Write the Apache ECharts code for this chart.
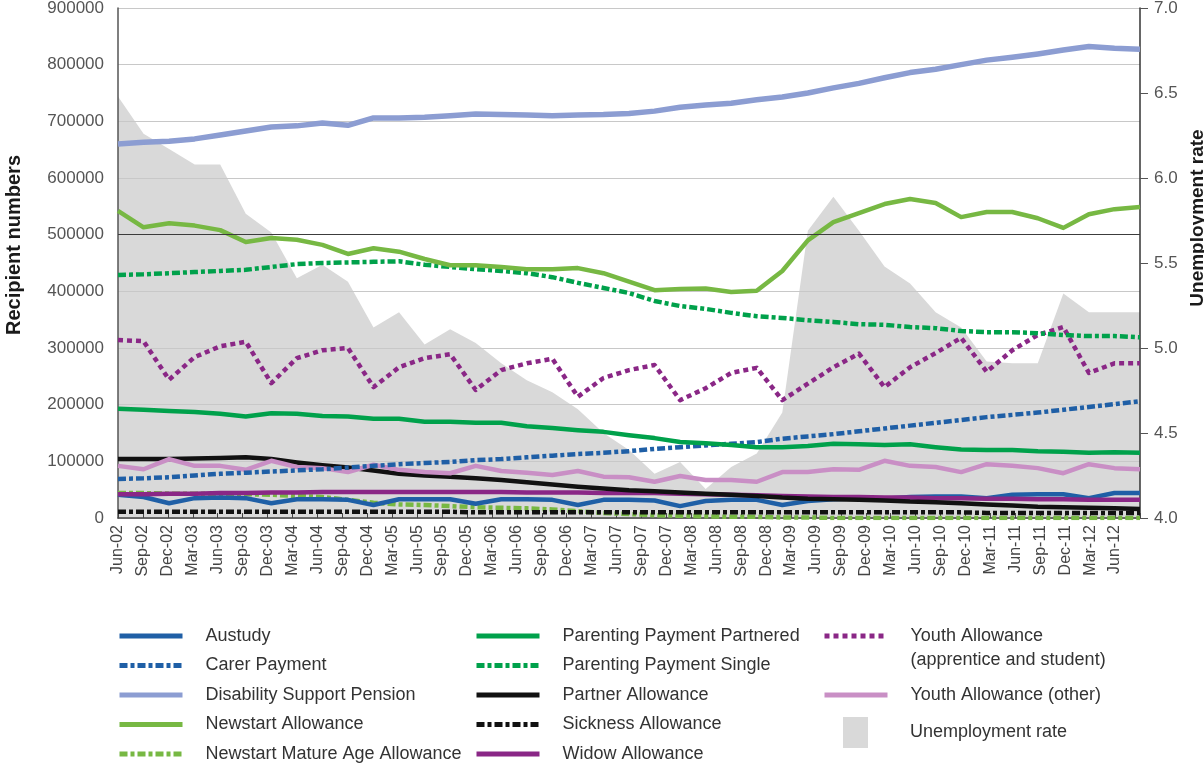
<!DOCTYPE html>
<html>
<head>
<meta charset="utf-8">
<script src="https://cdn.jsdelivr.net/npm/echarts@6/dist/echarts.min.js"></script>
<style>
  html, body { margin: 0; padding: 0; background: #ffffff; }
  #chart { width: 1204px; height: 764px; }
</style>
</head>
<body>
<div id="chart"></div>
<script>
// Quarters for which figures are plotted
const quarters = ['Jun-02','Sep-02','Dec-02','Mar-03','Jun-03','Sep-03','Dec-03','Mar-04','Jun-04','Sep-04',
  'Dec-04','Mar-05','Jun-05','Sep-05','Dec-05','Mar-06','Jun-06','Sep-06','Dec-06','Mar-07',
  'Jun-07','Sep-07','Dec-07','Mar-08','Jun-08','Sep-08','Dec-08','Mar-09','Jun-09','Sep-09',
  'Dec-09','Mar-10','Jun-10','Sep-10','Dec-10','Mar-11','Jun-11','Sep-11','Dec-11','Mar-12','Jun-12'];
// Tick labels on the category axis (one extra, unlabelled tick closes the axis)
const tickLabels = quarters.concat(['']);

// Recipient numbers by payment type
const austudy = [41000,37000,26000,35000,36000,35000,26000,33000,33000,32000,
  23000,33000,33000,33000,25000,33000,33000,32000,23000,32000,
  32000,31000,21000,30000,32000,32000,23000,30000,33000,35000,
  34000,37000,38000,38000,35000,41000,42000,42000,35000,44000,44000];
const carerPayment = [69000,70000,72000,75000,78000,80000,82000,84000,86000,89000,
  92000,95000,97000,99000,102000,104000,107000,110000,113000,115000,
  118000,122000,125000,128000,131000,134000,140000,144000,148000,153000,
  158000,163000,168000,173000,178000,182000,186000,191000,196000,201000,206000];
const disabilitySupport = [660000,663000,665000,669000,676000,683000,690000,692000,697000,693000,
  706000,706000,707000,710000,713000,712000,711000,710000,711000,712000,
  714000,718000,725000,729000,732000,738000,743000,750000,759000,767000,
  777000,786000,792000,800000,808000,813000,819000,826000,832000,829000,827000];
const newstart = [542000,513000,520000,516000,508000,487000,494000,491000,482000,466000,
  476000,470000,457000,446000,446000,443000,439000,439000,441000,432000,
  417000,402000,404000,405000,399000,401000,436000,490000,522000,538000,
  554000,563000,556000,531000,540000,540000,529000,512000,536000,545000,549000];
const newstartMatureAge = [44000,44000,43000,43000,42000,42000,41000,39000,37000,32000,
  27000,24000,23000,21000,19000,18000,17000,15000,12000,9000,
  7000,5000,4000,3000,2000,2000,1000,1000,0,0,
  0,0,0,0,0,0,0,0,0,0,0];
const parentingPartnered = [193000,191000,189000,187000,184000,179000,185000,184000,180000,179000,
  175000,175000,170000,170000,168000,168000,162000,159000,155000,152000,
  146000,141000,134000,132000,129000,125000,125000,127000,131000,130000,
  129000,130000,125000,121000,120000,120000,118000,117000,115000,116000,115000];
const parentingSingle = [429000,430000,432000,434000,436000,438000,443000,448000,450000,451000,
  452000,453000,447000,443000,439000,436000,432000,425000,415000,406000,
  397000,383000,374000,369000,362000,356000,353000,349000,346000,342000,
  341000,337000,335000,330000,328000,328000,326000,323000,321000,321000,319000];
const partnerAllowance = [104000,104000,104000,105000,106000,107000,104000,98000,93000,89000,
  84000,78000,75000,73000,70000,67000,63000,59000,55000,52000,
  49000,47000,45000,43000,41000,39000,36000,34000,33000,32000,
  31000,29000,28000,26000,24000,22000,20000,19000,18000,17000,16000];
const sicknessAllowance = [11000,11000,11000,11000,11000,11000,11000,11000,11000,11000,
  11000,11000,11000,11000,10000,10000,10000,10000,10000,10000,
  10000,10000,10000,10000,10000,10000,10000,10000,10000,10000,
  10000,10000,10000,10000,9000,9000,9000,9000,9000,9000,9000];
const widowAllowance = [42000,42000,43000,43000,44000,44000,45000,45000,46000,46000,
  46000,46000,46000,46000,46000,46000,45000,45000,45000,44000,
  44000,44000,43000,42000,41000,40000,39000,38000,37000,37000,
  36000,36000,35000,35000,34000,34000,33000,33000,32000,32000,32000];
const youthStudent = [314000,312000,244000,284000,303000,311000,238000,282000,296000,300000,
  231000,266000,282000,289000,226000,261000,273000,281000,214000,247000,
  261000,270000,208000,229000,256000,265000,208000,237000,266000,290000,
  231000,266000,291000,318000,258000,296000,323000,337000,256000,273000,273000];
const youthOther = [92000,86000,104000,92000,92000,85000,101000,90000,88000,81000,
  94000,85000,81000,79000,92000,83000,80000,76000,83000,73000,
  72000,64000,74000,67000,67000,64000,81000,81000,86000,85000,
  101000,92000,90000,81000,95000,92000,88000,79000,95000,88000,86000];

// Unemployment rate (%), right-hand axis
const unemploymentRate = [6.48,6.26,6.17,6.08,6.08,5.79,5.68,5.41,5.49,5.39,
  5.12,5.21,5.02,5.11,5.03,4.91,4.81,4.74,4.64,4.50,
  4.40,4.26,4.33,4.17,4.30,4.38,4.62,5.69,5.89,5.69,
  5.48,5.38,5.21,5.12,4.92,4.91,4.91,5.32,5.21,5.21,5.21];

const FONT = "'Liberation Sans', Arial, sans-serif";
const BLUE = '#1f5fa6', LAVENDER = '#8c9dd2', LIGHTGREEN = '#77b843',
      GREEN = '#00a14b', BLACK = '#111111', PURPLE = '#8a2786', PINK = '#c98fc5';
const DASH_DOT = [8, 3, 4, 3];
const DOTS = [5, 4];

function lineSeries(name, data, color, dash, width) {
  return {
    name: name,
    type: 'line',
    data: data,
    symbol: 'none',
    smooth: false,
    z: 3,
    lineStyle: {
      color: color,
      width: width || 4.5,
      type: dash || 'solid',
      cap: 'butt',
      join: 'round'
    },
    itemStyle: { color: color },
    emphasis: { disabled: true }
  };
}

const YOUTH_STUDENT = 'Youth Allowance\n(apprentice and student)';

const series = [
  {
    name: 'Unemployment rate',
    type: 'line',
    yAxisIndex: 1,
    data: unemploymentRate,
    symbol: 'none',
    z: -1,
    lineStyle: { width: 0, color: '#d9d9d9' },
    itemStyle: { color: '#d9d9d9' },
    areaStyle: { color: '#d9d9d9', opacity: 1, origin: 'start' },
    emphasis: { disabled: true }
  },
  lineSeries('Newstart Mature Age Allowance', newstartMatureAge, LIGHTGREEN, DASH_DOT),
  lineSeries('Sickness Allowance', sicknessAllowance, BLACK, DASH_DOT),
  lineSeries('Austudy', austudy, BLUE),
  lineSeries('Widow Allowance', widowAllowance, PURPLE),
  lineSeries('Partner Allowance', partnerAllowance, BLACK),
  lineSeries('Youth Allowance (other)', youthOther, PINK),
  lineSeries('Carer Payment', carerPayment, BLUE, DASH_DOT),
  lineSeries('Parenting Payment Partnered', parentingPartnered, GREEN),
  lineSeries(YOUTH_STUDENT, youthStudent, PURPLE, DOTS),
  lineSeries('Parenting Payment Single', parentingSingle, GREEN, DASH_DOT),
  lineSeries('Newstart Allowance', newstart, LIGHTGREEN),
  Object.assign(lineSeries('Disability Support Pension', disabilitySupport, LAVENDER, null, 5.5), {
    markLine: {
      silent: true,
      symbol: 'none',
      label: { show: false },
      lineStyle: { color: '#3c3c3c', width: 1, type: 'solid' },
      data: [{ yAxis: 500000 }]
    }
  })
];

const legendText = { fontFamily: FONT, fontSize: 18, color: '#333', lineHeight: 20, padding: [0, 0, 0, 18] };
const legendBase = {
  orient: 'vertical',
  padding: 0,
  itemWidth: 63,
  itemHeight: 14,
  itemGap: 9.5,
  selectedMode: false,
  // line samples only, no marker on them
  itemStyle: { opacity: 0, borderWidth: 0 },
  lineStyle: { width: 5 },
  textStyle: legendText
};

const option = {
  backgroundColor: '#ffffff',
  animation: false,
  grid: { left: 118, right: 64, top: 8, bottom: 246, containLabel: false, outerBoundsMode: 'none' },
  legend: [
    Object.assign({}, legendBase, { left: 117, top: 626,
      data: ['Austudy', 'Carer Payment', 'Disability Support Pension', 'Newstart Allowance', 'Newstart Mature Age Allowance'] }),
    Object.assign({}, legendBase, { left: 474, top: 626,
      data: ['Parenting Payment Partnered', 'Parenting Payment Single', 'Partner Allowance', 'Sickness Allowance', 'Widow Allowance'] }),
    Object.assign({}, legendBase, { left: 822, top: 600,
      textStyle: Object.assign({}, legendText, { lineHeight: 24 }),
      formatter: function (name) { return ' \n' + name; },
      data: [YOUTH_STUDENT] }),
    Object.assign({}, legendBase, { left: 822, top: 685, data: ['Youth Allowance (other)'] }),
    Object.assign({}, legendBase, { left: 843, top: 717, itemWidth: 25, itemHeight: 31,
      itemStyle: { color: '#d9d9d9' },
      textStyle: Object.assign({}, legendText, { padding: [0, 0, 0, 37] }),
      data: [{ name: 'Unemployment rate', icon: 'rect' }] })
  ],
  xAxis: [
    {
      // positions of the plotted quarters
      type: 'category',
      data: quarters,
      boundaryGap: false,
      position: 'top',
      show: false
    },
    {
      // visible quarter axis with its tick marks
      type: 'category',
      data: tickLabels,
      boundaryGap: false,
      position: 'bottom',
      axisLine: { show: true, lineStyle: { color: '#444', width: 1.5 } },
      axisTick: { show: true, inside: true, length: 5, interval: 0, lineStyle: { color: '#444' } },
      axisLabel: { interval: 0, rotate: 90, margin: 7, fontFamily: FONT, fontSize: 16, color: '#444' },
      splitLine: { show: false }
    }
  ],
  yAxis: [
    {
      type: 'value',
      min: 0, max: 900000, interval: 100000,
      name: 'Recipient numbers',
      nameLocation: 'middle',
      nameRotate: 90,
      nameGap: 94,
      nameTextStyle: { fontFamily: FONT, fontSize: 20, fontWeight: 'bold', color: '#1a1a1a', padding: [0, 0, 0, 36] },
      axisLine: { show: true, lineStyle: { color: '#555', width: 1.5 } },
      axisTick: { show: false },
      axisLabel: { margin: 14, fontFamily: FONT, fontSize: 17, color: '#555',
        formatter: function (v) { return String(v); } },
      splitLine: { show: true, lineStyle: { color: '#c8c8c8', width: 1 } }
    },
    {
      type: 'value',
      position: 'right',
      min: 4, max: 7, interval: 0.5,
      name: 'Unemployment rate',
      nameLocation: 'middle',
      nameRotate: 90,
      nameGap: 45,
      nameTextStyle: { fontFamily: FONT, fontSize: 19, fontWeight: 'bold', color: '#1a1a1a', padding: [0, 0, 0, 90] },
      axisLine: { show: true, lineStyle: { color: '#333', width: 1.5 } },
      axisTick: { show: true, length: 8, lineStyle: { color: '#555' } },
      axisLabel: { margin: 14, fontFamily: FONT, fontSize: 17, color: '#555',
        formatter: function (v) { return v.toFixed(1); } },
      splitLine: { show: false }
    }
  ],
  series: series
};

const chart = echarts.init(document.getElementById('chart'), null, { renderer: 'canvas' });
chart.setOption(option);
</script>
</body>
</html>
